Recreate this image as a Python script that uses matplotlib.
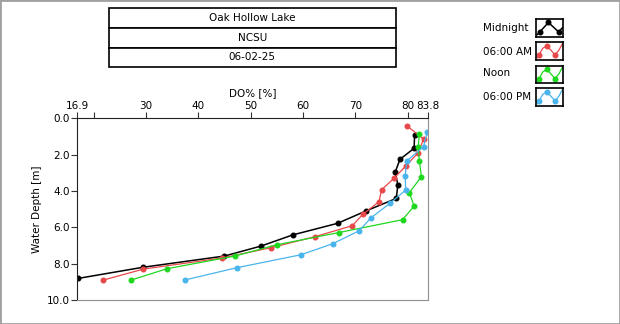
import numpy as np
import matplotlib
matplotlib.use('Agg')
import matplotlib.pyplot as plt
from matplotlib.patches import Rectangle

plt.rcParams['font.family'] = 'DejaVu Sans'
plt.rcParams['font.size'] = 7.5

# profile data: DO% vs depth (m)
depth_mid = [0.92, 1.65, 2.26, 2.96, 3.67, 4.41, 5.10, 5.78, 6.42, 7.03, 7.58, 8.20, 8.81]
do_mid = [81.3, 81.2, 78.5, 77.6, 78.1, 77.8, 72.0, 66.6, 58.0, 52.0, 45.0, 29.4, 17.1]

depth_am = [0.41, 1.14, 1.89, 2.63, 3.29, 3.93, 4.59, 5.29, 5.91, 6.52, 7.12, 7.69, 8.30, 8.90]
do_am = [79.8, 83.0, 82.0, 79.6, 77.4, 75.0, 74.5, 71.4, 69.4, 62.2, 53.9, 44.5, 29.5, 21.9]

depth_noon = [0.85, 1.58, 2.33, 3.21, 4.09, 4.83, 5.58, 6.29, 6.96, 7.58, 8.28, 8.90]
do_noon = [82.2, 82.0, 82.2, 82.6, 80.3, 81.2, 79.0, 66.8, 55.0, 47.0, 34.0, 27.2]

depth_pm = [0.77, 1.56, 2.35, 3.18, 3.95, 4.68, 5.47, 6.19, 6.90, 7.51, 8.22, 8.90]
do_pm = [83.7, 83.0, 79.8, 79.5, 79.6, 76.6, 73.0, 70.7, 65.7, 59.6, 47.4, 37.4]

series_names = ['Midnight', '06:00 AM', 'Noon', '06:00 PM']
series_colors = ['black', '#e8484a', '#1ed81e', '#4ab4ec']

title_rows = ['Oak Hollow Lake', 'NCSU', '06-02-25']

x_ticks = [16.9, 20, 30, 40, 50, 60, 70, 80, 83.8]
x_ticklabels = ['16.9', '', '30', '40', '50', '60', '70', '80', '83.8']
y_ticks = [0, 2, 4, 6, 8, 10]

W, H = 620, 324
fig = plt.figure(figsize=(W / 100, H / 100), dpi=100)

def fbox(x0, y0, x1, y1):
    # pixel box (top-left origin) -> figure fraction rect
    return [x0 / W, 1 - y1 / H, (x1 - x0) / W, (y1 - y0) / H]

# main axes
ax = fig.add_axes(fbox(77.3, 118.3, 427.7, 300))
data = [(do_mid, depth_mid), (do_am, depth_am), (do_noon, depth_noon), (do_pm, depth_pm)]
for (xv, yv), c, name in zip(data, series_colors, series_names):
    lw = 1.1 if c == 'black' else 0.9
    ax.plot(xv, yv, color=c, lw=lw, marker='o', ms=3.3, label=name)

ax.set_xlim(16.9, 83.8)
ax.set_ylim(10, 0)
ax.xaxis.tick_top()
ax.xaxis.set_label_position('top')
ax.set_xticks(x_ticks)
ax.set_xticklabels(x_ticklabels)
ax.set_yticks(y_ticks)
ax.set_yticklabels(['%.1f' % v for v in y_ticks])
ax.tick_params(axis='both', direction='out', length=4, width=0.8, pad=1.5, labelsize=7.5, colors='#333333')
ax.tick_params(axis='both', labelcolor='black')
ax.set_xlabel('DO% [%]', labelpad=3)
ax.set_ylabel('Water Depth [m]', labelpad=3)
for s in ['bottom', 'right']:
    ax.spines[s].set_color('#909090')
for s in ['top', 'left']:
    ax.spines[s].set_color('#222222')

# title boxes
tax = fig.add_axes(fbox(109, 8.3, 395.7, 67.3))
tax.axis('off')
tab = tax.table(cellText=[[t] for t in title_rows], cellLoc='center', bbox=[0, 0, 1, 1])
tab.auto_set_font_size(False)
for cell in tab.get_celld().values():
    cell.set_linewidth(1.2)
    cell.get_text().set_fontsize(7.5)

# legend (labels + boxed icons)
icon_top = [19.3, 42.3, 66, 88.3]
label_y = [28.3, 51.7, 73.3, 97.3]
mid_x = [0.05, 0.14, 0.46, 0.83, 0.97]
mid_y = [0.12, 0.26, 0.82, 0.28, 0.52]
wave_x = [0.06, 0.12, 0.25, 0.40, 0.55, 0.70, 0.84, 0.96]
wave_y = [0.12, 0.26, 0.65, 0.80, 0.55, 0.28, 0.55, 0.90]
for i, (name, c) in enumerate(zip(series_names, series_colors)):
    fig.text(482.7 / W, 1 - label_y[i] / H, name, ha='left', va='center', fontsize=7.5)
    iax = fig.add_axes(fbox(535.7, icon_top[i], 563.3, icon_top[i] + 17.5))
    iax.set_xlim(0, 1)
    iax.set_ylim(0, 1)
    iax.set_xticks([])
    iax.set_yticks([])
    for s in iax.spines.values():
        s.set_linewidth(1.2)
    if i == 0:
        iax.plot(mid_x, mid_y, color=c, lw=1.1)
        iax.plot(mid_x[1:4], mid_y[1:4], ls='', marker='o', ms=3.3, color=c)
    else:
        iax.plot(wave_x, wave_y, color=c, lw=0.9)
        iax.plot([wave_x[1], wave_x[3], wave_x[5]], [wave_y[1], wave_y[3], wave_y[5]],
                 ls='', marker='o', ms=3.3, color=c)

# outer frame
fig.add_artist(Rectangle((0, 0), 1, 1, transform=fig.transFigure, fill=False,
                         ec='#a0a0a0', lw=2))

fig.savefig('out.png', dpi=100)
